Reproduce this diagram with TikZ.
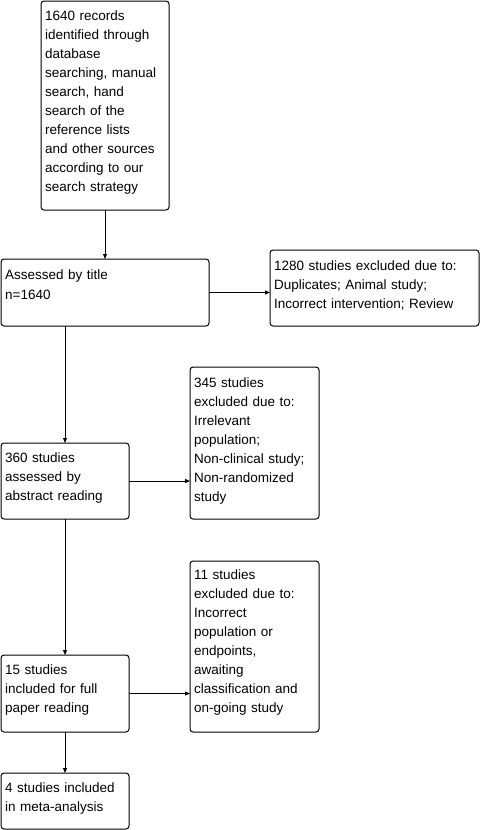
\documentclass[tikz,border=0pt]{standalone}
\usepackage{fontspec}
\setmainfont{Liberation Sans}
\usetikzlibrary{arrows.meta}
\begin{document}
\begin{tikzpicture}[x=1pt,y=-1pt,
  box/.style={draw, line width=1pt, rounded corners=3pt, anchor=north west, inner sep=0pt, outer sep=0pt},
  txt/.style={anchor=base west, align=left, inner sep=0pt, text width=#1, font=\fontsize{13.5pt}{19pt}\selectfont},
  arr/.style={line width=1pt, -{Triangle[length=5pt,width=4pt]}}]
\useasboundingbox (0,0) rectangle (482,830);
\fill[white] (0,0) rectangle (482,830);
\node[box, minimum width=128pt, minimum height=209pt] (b1) at (41,1) {};
\node[box, minimum width=208pt, minimum height=67pt] (b2) at (1,259) {};
\node[box, minimum width=209pt, minimum height=76pt] (b3) at (270,250) {};
\node[box, minimum width=128pt, minimum height=76pt] (b4) at (1,443) {};
\node[box, minimum width=129pt, minimum height=152pt] (b5) at (190,367) {};
\node[box, minimum width=128pt, minimum height=77pt] (b6) at (1,655) {};
\node[box, minimum width=129pt, minimum height=171pt] (b7) at (190,561) {};
\node[box, minimum width=128pt, minimum height=56pt] (b8) at (1,773) {};

\node[txt=124pt] (t1) at ([xshift=4pt,yshift=-19pt]b1.north west) {1640 records\\identified through\\database\\searching, manual\\search, hand\\search of the\\reference lists\\and other sources\\according to our\\search strategy};
\node[txt=204pt] (t2) at ([xshift=4pt,yshift=-20pt]b2.north west) {Assessed by title\\[1pt]n=1640};
\node[txt=205pt] (t3) at ([xshift=4pt,yshift=-20pt]b3.north west) {1280 studies excluded due to:\\Duplicates; Animal study;\\Incorrect intervention; Review};
\node[txt=124pt] (t4) at ([xshift=4pt,yshift=-19pt]b4.north west) {360 studies\\assessed by\\abstract reading};
\node[txt=125pt] (t5) at ([xshift=4pt,yshift=-20pt]b5.north west) {345 studies\\excluded due to:\\Irrelevant\\population;\\Non-clinical study;\\Non-randomized\\study};
\node[txt=124pt] (t6) at ([xshift=4pt,yshift=-19pt]b6.north west) {15 studies\\included for full\\paper reading};
\node[txt=125pt] (t7) at ([xshift=4pt,yshift=-18pt]b7.north west) {11 studies\\excluded due to:\\Incorrect\\population or\\endpoints,\\awaiting\\classification and\\on-going study};
\node[txt=124pt] (t8) at ([xshift=4pt,yshift=-19pt]b8.north west) {4 studies included\\in meta-analysis};

\draw[arr] (b1.south) -- (b2.north -| b1.south);
\draw[arr] (b2.east) -- (b2.east -| b3.west);
\draw[arr] (b2.south -| b4.north) -- (b4.north);
\draw[arr] (b4.east) -- (b4.east -| b5.west);
\draw[arr] (b4.south) -- (b6.north);
\draw[arr] (b6.east) -- (b6.east -| b7.west);
\draw[arr] (b6.south) -- (b8.north);
\end{tikzpicture}
\end{document}
